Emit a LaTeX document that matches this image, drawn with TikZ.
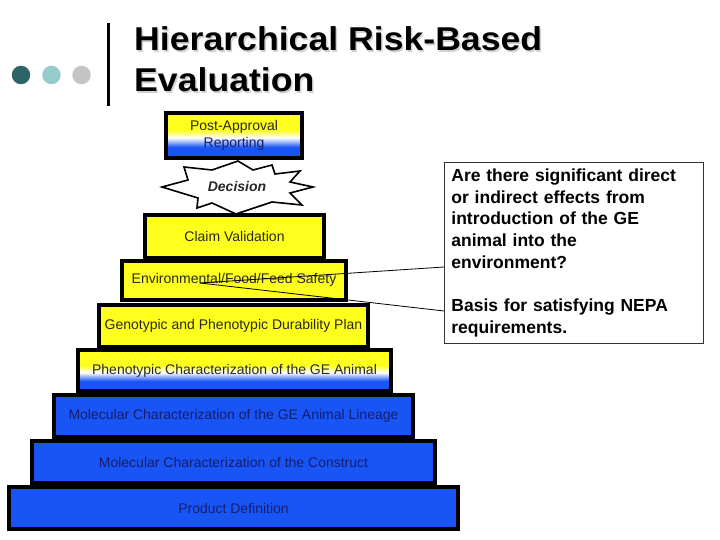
\documentclass[tikz,border=0pt]{standalone}
\usepackage{fontspec}
\setmainfont{Liberation Sans}
\usepackage{graphicx}
\definecolor{pyrblue}{RGB}{25,85,245}
\definecolor{pyryellow}{RGB}{255,255,30}
\definecolor{navytext}{RGB}{20,30,110}
\definecolor{darktext}{RGB}{40,40,40}
\definecolor{dotdark}{RGB}{47,100,103}
\definecolor{dotteal}{RGB}{150,204,206}
\definecolor{dotgray}{RGB}{196,196,196}
\pgfdeclareverticalshading{ybwshade}{100bp}{color(0bp)=(pyrblue); color(37bp)=(pyrblue); color(47.5bp)=(white); color(56bp)=(pyryellow); color(100bp)=(pyryellow)}
\tikzset{
  block/.style={draw=black, line width=4pt, rectangle, inner sep=0pt, font=\fontsize{14}{16}\selectfont},
  yblock/.style={block, fill=pyryellow, text=darktext},
  bblock/.style={block, fill=pyrblue, text=navytext},
  gblock/.style={block, shading=ybwshade, shading angle=0, text=darktext},
  callout/.style={draw=black!80, line width=0.8pt},
  dot/.style={circle, minimum size=18.5pt, inner sep=0pt},
}
\begin{document}
\begin{tikzpicture}[x=1pt,y=-1pt]
\useasboundingbox (0,0) rectangle (720,540);
\fill[white] (0,0) rectangle (720,540);

% header
\node[dot, fill=dotdark] (d1) at (21,75) {};
\node[dot, fill=dotteal] (d2) at (51.5,75) {};
\node[dot, fill=dotgray] (d3) at (81.5,75) {};
\draw[line width=3pt] (108.5,23) coordinate (bartop) -- (108.5,106) coordinate (barbot);
\node[anchor=base west, inner sep=0pt, text=black!18, font=\fontsize{33}{40}\bfseries] (t1s) at (135.5,52.5) {\scalebox{1.08}[1]{Hierarchical Risk-Based}};
\node[anchor=base west, inner sep=0pt, text=black!18, font=\fontsize{33}{40}\bfseries] (t2s) at (135.5,93.5) {\scalebox{1.08}[1]{Evaluation}};
\node[anchor=base west, inner sep=0pt, font=\fontsize{33}{40}\bfseries] (t1) at (134,51) {\scalebox{1.08}[1]{Hierarchical Risk-Based}};
\node[anchor=base west, inner sep=0pt, font=\fontsize{33}{40}\bfseries] (t2) at (134,92) {\scalebox{1.08}[1]{Evaluation}};

% pyramid, bottom up
\node[bblock, minimum width=449pt, minimum height=42pt] (prod) at (233.5,508) {Product Definition};
\node[bblock, minimum width=403pt, minimum height=42pt] (constr) at (233.5,462) {Molecular Characterization of the Construct};
\node[bblock, minimum width=359pt, minimum height=42pt] (lineage) at (233.5,416) {Molecular Characterization of the GE Animal Lineage};
\node[gblock, minimum width=313pt, minimum height=41pt] (pheno) at (234.5,370.5) {\raisebox{-1pt}{Phenotypic Characterization of the GE Animal}};
\node[yblock, minimum width=269pt, minimum height=42pt] (geno) at (233.5,325.5) {Genotypic and Phenotypic Durability Plan};
\node[yblock, minimum width=224pt, minimum height=39pt] (env) at (234,280) {\raisebox{-3pt}{Environmental/Food/Feed Safety}};
\node[yblock, minimum width=179pt, minimum height=43pt] (claim) at (234.5,236.5) {Claim Validation};
\node[gblock, minimum width=136pt, minimum height=45pt, align=center, font=\fontsize{14}{17}\selectfont] (post) at (234,135.5) {Post-Approval\\\textcolor{navytext}{Reporting}};

% decision star
\draw[black, line width=1.6pt, line join=miter, fill=white]
  (238,161) -- (253,170) -- (272,165) -- (275,174) -- (300,171) -- (290,182)
  -- (313,187) -- (290,193) -- (302,205) -- (272,202) -- (236,214) -- (212,203)
  -- (197,208) -- (198,198) -- (162,187) -- (188,180) -- (184,167) -- (212,170) -- cycle;
\node[font=\fontsize{14}{16}\bfseries\itshape, text=darktext] (dec) at (237,186) {Decision};

% callout
\node[callout, anchor=north west, minimum width=259pt, minimum height=181pt, inner xsep=7pt, inner ysep=4pt,
      text width=245pt, align=left, font=\fontsize{17.5}{21.7}\bfseries] (note) at (444,162)
  {Are there significant direct\\or indirect effects from\\introduction of the GE\\animal into the\\environment?\\[21.7pt]Basis for satisfying NEPA\\requirements.};
\coordinate (pt) at (200,283);
\draw[line width=0.8pt] (pt) -- (note.west |- 0,267);
\draw[line width=0.8pt] (pt) -- (note.west |- 0,311);
\end{tikzpicture}
\end{document}
